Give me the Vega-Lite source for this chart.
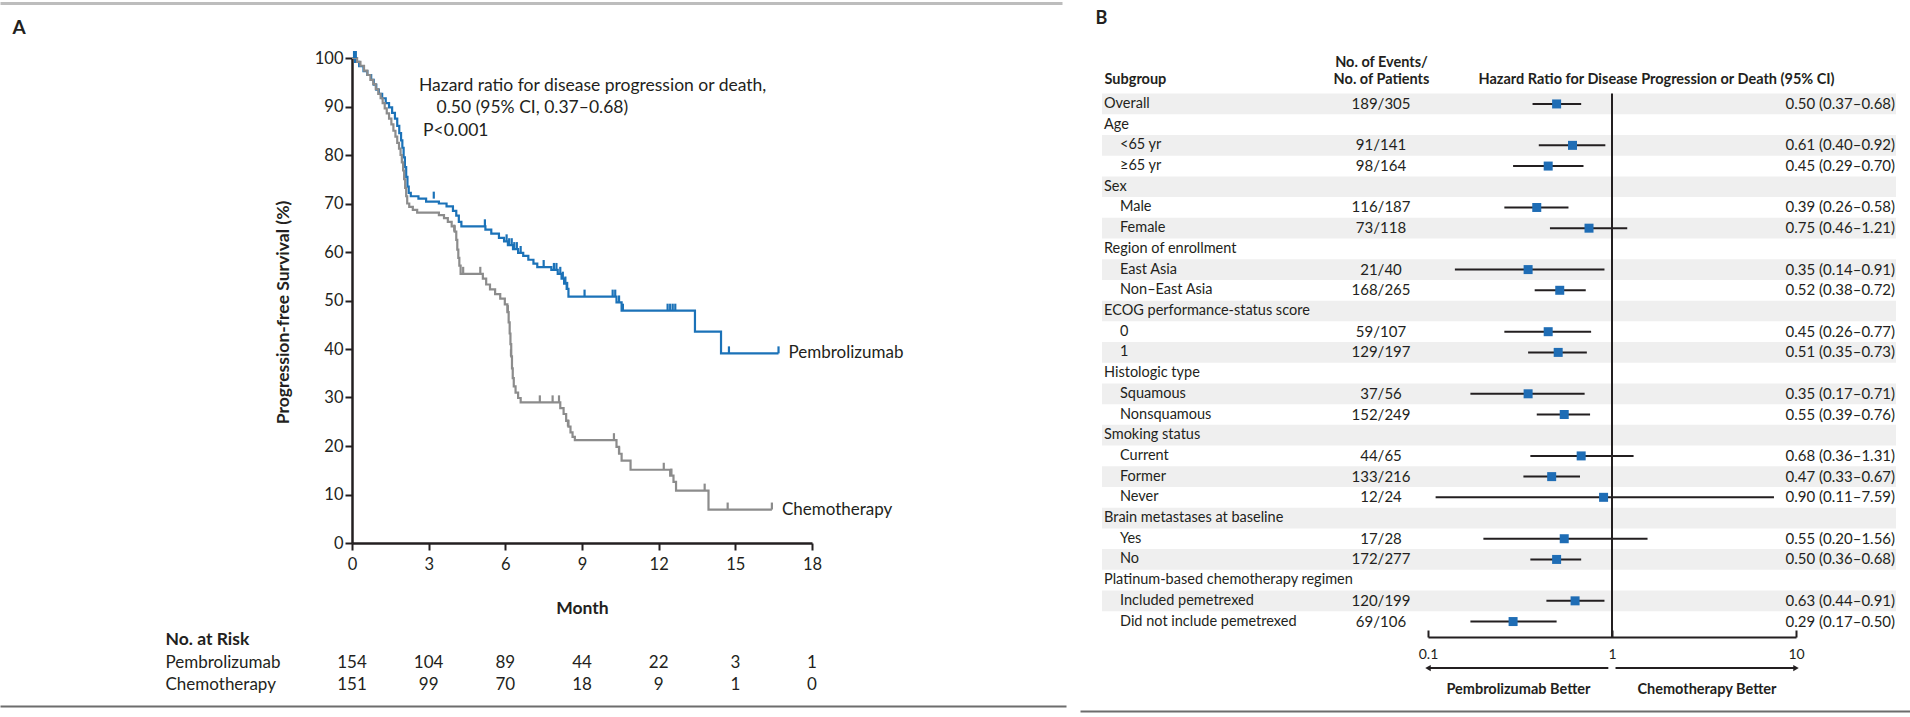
{
"$schema":"https://vega.github.io/schema/vega-lite/v6.json",
"width":1910,"height":717,"autosize":{"type":"none"},"padding":0,"background":"#ffffff",
"config":{"view":{"stroke":null},"font":"Lato","axis":{"grid":false,"labelFont":"Lato","titleFont":"Lato","labelColor":"#231f20","titleColor":"#231f20","domainColor":"#231f20","tickColor":"#231f20","labelFlush":false,"labelOverlap":false},"text":{"font":"Lato","fill":"#231f20"}},
"datasets":{
"km":[
{"arm":"Pembrolizumab","month":0,"surv":100},{"arm":"Pembrolizumab","month":0.12,"surv":99.2},{"arm":"Pembrolizumab","month":0.28,"surv":98.3},{"arm":"Pembrolizumab","month":0.45,"surv":97.3},{"arm":"Pembrolizumab","month":0.6,"surv":96.5},{"arm":"Pembrolizumab","month":0.75,"surv":95.5},{"arm":"Pembrolizumab","month":0.85,"surv":94.5},{"arm":"Pembrolizumab","month":0.95,"surv":93.5},{"arm":"Pembrolizumab","month":1.05,"surv":92.6},{"arm":"Pembrolizumab","month":1.18,"surv":91.7},{"arm":"Pembrolizumab","month":1.32,"surv":90.7},{"arm":"Pembrolizumab","month":1.45,"surv":89.8},{"arm":"Pembrolizumab","month":1.57,"surv":88.7},{"arm":"Pembrolizumab","month":1.68,"surv":87.5},{"arm":"Pembrolizumab","month":1.77,"surv":86},{"arm":"Pembrolizumab","month":1.85,"surv":84.5},{"arm":"Pembrolizumab","month":1.92,"surv":83},{"arm":"Pembrolizumab","month":1.97,"surv":81.5},{"arm":"Pembrolizumab","month":2.02,"surv":79.5},{"arm":"Pembrolizumab","month":2.07,"surv":77.5},{"arm":"Pembrolizumab","month":2.12,"surv":75.5},{"arm":"Pembrolizumab","month":2.17,"surv":73.5},{"arm":"Pembrolizumab","month":2.22,"surv":72.2},{"arm":"Pembrolizumab","month":2.3,"surv":71.5},{"arm":"Pembrolizumab","month":2.6,"surv":71},{"arm":"Pembrolizumab","month":2.9,"surv":70.4},{"arm":"Pembrolizumab","month":3.4,"surv":70},{"arm":"Pembrolizumab","month":3.7,"surv":69.4},{"arm":"Pembrolizumab","month":3.95,"surv":68.5},{"arm":"Pembrolizumab","month":4.08,"surv":67.5},{"arm":"Pembrolizumab","month":4.18,"surv":66.2},{"arm":"Pembrolizumab","month":4.28,"surv":65.3},{"arm":"Pembrolizumab","month":5.22,"surv":64.6},{"arm":"Pembrolizumab","month":5.45,"surv":63.8},{"arm":"Pembrolizumab","month":5.75,"surv":62.9},{"arm":"Pembrolizumab","month":5.95,"surv":62.2},{"arm":"Pembrolizumab","month":6.1,"surv":61.4},{"arm":"Pembrolizumab","month":6.3,"surv":60.6},{"arm":"Pembrolizumab","month":6.5,"surv":59.8},{"arm":"Pembrolizumab","month":6.7,"surv":59.2},{"arm":"Pembrolizumab","month":6.9,"surv":58.4},{"arm":"Pembrolizumab","month":7.1,"surv":57.6},{"arm":"Pembrolizumab","month":7.25,"surv":56.9},{"arm":"Pembrolizumab","month":7.8,"surv":56.3},{"arm":"Pembrolizumab","month":8.05,"surv":55.5},{"arm":"Pembrolizumab","month":8.2,"surv":54.5},{"arm":"Pembrolizumab","month":8.3,"surv":53.5},{"arm":"Pembrolizumab","month":8.4,"surv":52.4},{"arm":"Pembrolizumab","month":8.47,"surv":50.8},{"arm":"Pembrolizumab","month":10.35,"surv":49.6},{"arm":"Pembrolizumab","month":10.55,"surv":47.9},{"arm":"Pembrolizumab","month":13.42,"surv":43.6},{"arm":"Pembrolizumab","month":14.44,"surv":39.1},{"arm":"Pembrolizumab","month":16.69,"surv":39.1},
{"arm":"Chemotherapy","month":0,"surv":100},{"arm":"Chemotherapy","month":0.2,"surv":99.2},{"arm":"Chemotherapy","month":0.33,"surv":98.4},{"arm":"Chemotherapy","month":0.47,"surv":97.4},{"arm":"Chemotherapy","month":0.6,"surv":96.5},{"arm":"Chemotherapy","month":0.72,"surv":95.5},{"arm":"Chemotherapy","month":0.83,"surv":94.6},{"arm":"Chemotherapy","month":0.93,"surv":93.6},{"arm":"Chemotherapy","month":1.03,"surv":92.6},{"arm":"Chemotherapy","month":1.12,"surv":91.7},{"arm":"Chemotherapy","month":1.2,"surv":90.7},{"arm":"Chemotherapy","month":1.28,"surv":89.6},{"arm":"Chemotherapy","month":1.36,"surv":88.6},{"arm":"Chemotherapy","month":1.45,"surv":87.5},{"arm":"Chemotherapy","month":1.54,"surv":86.3},{"arm":"Chemotherapy","month":1.62,"surv":85},{"arm":"Chemotherapy","month":1.7,"surv":83.8},{"arm":"Chemotherapy","month":1.77,"surv":82.5},{"arm":"Chemotherapy","month":1.84,"surv":81.3},{"arm":"Chemotherapy","month":1.9,"surv":80},{"arm":"Chemotherapy","month":1.95,"surv":78.5},{"arm":"Chemotherapy","month":2.0,"surv":76.8},{"arm":"Chemotherapy","month":2.04,"surv":75},{"arm":"Chemotherapy","month":2.08,"surv":73.2},{"arm":"Chemotherapy","month":2.12,"surv":71.5},{"arm":"Chemotherapy","month":2.16,"surv":70},{"arm":"Chemotherapy","month":2.24,"surv":69.3},{"arm":"Chemotherapy","month":2.38,"surv":68.7},{"arm":"Chemotherapy","month":2.55,"surv":68.1},{"arm":"Chemotherapy","month":3.4,"surv":67.6},{"arm":"Chemotherapy","month":3.6,"surv":67},{"arm":"Chemotherapy","month":3.75,"surv":66.2},{"arm":"Chemotherapy","month":3.9,"surv":65.3},{"arm":"Chemotherapy","month":4.02,"surv":64.2},{"arm":"Chemotherapy","month":4.08,"surv":62.5},{"arm":"Chemotherapy","month":4.12,"surv":60.5},{"arm":"Chemotherapy","month":4.16,"surv":58.8},{"arm":"Chemotherapy","month":4.2,"surv":57.2},{"arm":"Chemotherapy","month":4.25,"surv":55.5},{"arm":"Chemotherapy","month":5.12,"surv":54.5},{"arm":"Chemotherapy","month":5.25,"surv":53.3},{"arm":"Chemotherapy","month":5.4,"surv":52.3},{"arm":"Chemotherapy","month":5.6,"surv":51.3},{"arm":"Chemotherapy","month":5.8,"surv":50.4},{"arm":"Chemotherapy","month":5.98,"surv":49.2},{"arm":"Chemotherapy","month":6.08,"surv":47.6},{"arm":"Chemotherapy","month":6.13,"surv":45.5},{"arm":"Chemotherapy","month":6.17,"surv":43.2},{"arm":"Chemotherapy","month":6.2,"surv":41},{"arm":"Chemotherapy","month":6.23,"surv":38.5},{"arm":"Chemotherapy","month":6.26,"surv":36},{"arm":"Chemotherapy","month":6.29,"surv":34},{"arm":"Chemotherapy","month":6.33,"surv":32.3},{"arm":"Chemotherapy","month":6.4,"surv":31},{"arm":"Chemotherapy","month":6.5,"surv":29.9},{"arm":"Chemotherapy","month":6.6,"surv":29},{"arm":"Chemotherapy","month":8.15,"surv":27.8},{"arm":"Chemotherapy","month":8.28,"surv":26.6},{"arm":"Chemotherapy","month":8.38,"surv":25.2},{"arm":"Chemotherapy","month":8.47,"surv":24},{"arm":"Chemotherapy","month":8.55,"surv":22.8},{"arm":"Chemotherapy","month":8.63,"surv":21.9},{"arm":"Chemotherapy","month":8.72,"surv":21.2},{"arm":"Chemotherapy","month":10.35,"surv":19.8},{"arm":"Chemotherapy","month":10.45,"surv":18.4},{"arm":"Chemotherapy","month":10.55,"surv":17},{"arm":"Chemotherapy","month":10.9,"surv":15.1},{"arm":"Chemotherapy","month":12.45,"surv":13.9},{"arm":"Chemotherapy","month":12.58,"surv":12.6},{"arm":"Chemotherapy","month":12.68,"surv":10.8},{"arm":"Chemotherapy","month":13.95,"surv":6.9},{"arm":"Chemotherapy","month":16.43,"surv":6.9}
],
"cens":[
{"arm":"Pembrolizumab","month":0.08,"surv":100},{"arm":"Pembrolizumab","month":0.15,"surv":100},{"arm":"Pembrolizumab","month":3.2,"surv":71},{"arm":"Pembrolizumab","month":5.2,"surv":65.3},{"arm":"Pembrolizumab","month":6.05,"surv":62.2},{"arm":"Pembrolizumab","month":6.15,"surv":61.4},{"arm":"Pembrolizumab","month":6.25,"surv":61.4},{"arm":"Pembrolizumab","month":6.35,"surv":60.6},{"arm":"Pembrolizumab","month":6.45,"surv":60.6},{"arm":"Pembrolizumab","month":6.6,"surv":59.8},{"arm":"Pembrolizumab","month":7.5,"surv":56.9},{"arm":"Pembrolizumab","month":7.9,"surv":56.3},{"arm":"Pembrolizumab","month":8.0,"surv":56.3},{"arm":"Pembrolizumab","month":8.15,"surv":55.5},{"arm":"Pembrolizumab","month":8.25,"surv":54.5},{"arm":"Pembrolizumab","month":8.35,"surv":53.5},{"arm":"Pembrolizumab","month":8.42,"surv":52.4},{"arm":"Pembrolizumab","month":9.1,"surv":50.8},{"arm":"Pembrolizumab","month":10.2,"surv":50.8},{"arm":"Pembrolizumab","month":10.3,"surv":50.8},{"arm":"Pembrolizumab","month":10.45,"surv":49.6},{"arm":"Pembrolizumab","month":10.6,"surv":47.9},{"arm":"Pembrolizumab","month":12.35,"surv":47.9},{"arm":"Pembrolizumab","month":12.45,"surv":47.9},{"arm":"Pembrolizumab","month":12.55,"surv":47.9},{"arm":"Pembrolizumab","month":12.65,"surv":47.9},{"arm":"Pembrolizumab","month":14.75,"surv":39.1},{"arm":"Pembrolizumab","month":16.69,"surv":39.1},
{"arm":"Chemotherapy","month":4.0,"surv":64.2},{"arm":"Chemotherapy","month":4.35,"surv":55.5},{"arm":"Chemotherapy","month":5.02,"surv":55.5},{"arm":"Chemotherapy","month":6.1,"surv":47.6},{"arm":"Chemotherapy","month":6.22,"surv":38.5},{"arm":"Chemotherapy","month":7.35,"surv":29},{"arm":"Chemotherapy","month":7.85,"surv":29},{"arm":"Chemotherapy","month":8.1,"surv":29},{"arm":"Chemotherapy","month":8.45,"surv":24},{"arm":"Chemotherapy","month":10.25,"surv":21.2},{"arm":"Chemotherapy","month":10.45,"surv":18.4},{"arm":"Chemotherapy","month":12.2,"surv":15.1},{"arm":"Chemotherapy","month":12.5,"surv":13.9},{"arm":"Chemotherapy","month":13.8,"surv":10.8},{"arm":"Chemotherapy","month":14.7,"surv":6.9},{"arm":"Chemotherapy","month":16.43,"surv":6.9}
],
"risk":[
{"arm":"Pembrolizumab","month":0,"n":154},{"arm":"Pembrolizumab","month":3,"n":104},{"arm":"Pembrolizumab","month":6,"n":89},{"arm":"Pembrolizumab","month":9,"n":44},{"arm":"Pembrolizumab","month":12,"n":22},{"arm":"Pembrolizumab","month":15,"n":3},{"arm":"Pembrolizumab","month":18,"n":1},
{"arm":"Chemotherapy","month":0,"n":151},{"arm":"Chemotherapy","month":3,"n":99},{"arm":"Chemotherapy","month":6,"n":70},{"arm":"Chemotherapy","month":9,"n":18},{"arm":"Chemotherapy","month":12,"n":9},{"arm":"Chemotherapy","month":15,"n":1},{"arm":"Chemotherapy","month":18,"n":0}
],
"forest":[
{"subgroup":"Overall","level":1,"events":"189/305","hr":0.50,"lo":0.37,"hi":0.68,"estimate":"0.50 (0.37–0.68)"},
{"subgroup":"Age","level":1},
{"subgroup":"<65 yr","level":2,"events":"91/141","hr":0.61,"lo":0.40,"hi":0.92,"estimate":"0.61 (0.40–0.92)"},
{"subgroup":"≥65 yr","level":2,"events":"98/164","hr":0.45,"lo":0.29,"hi":0.70,"estimate":"0.45 (0.29–0.70)"},
{"subgroup":"Sex","level":1},
{"subgroup":"Male","level":2,"events":"116/187","hr":0.39,"lo":0.26,"hi":0.58,"estimate":"0.39 (0.26–0.58)"},
{"subgroup":"Female","level":2,"events":"73/118","hr":0.75,"lo":0.46,"hi":1.21,"estimate":"0.75 (0.46–1.21)"},
{"subgroup":"Region of enrollment","level":1},
{"subgroup":"East Asia","level":2,"events":"21/40","hr":0.35,"lo":0.14,"hi":0.91,"estimate":"0.35 (0.14–0.91)"},
{"subgroup":"Non–East Asia","level":2,"events":"168/265","hr":0.52,"lo":0.38,"hi":0.72,"estimate":"0.52 (0.38–0.72)"},
{"subgroup":"ECOG performance-status score","level":1},
{"subgroup":"0","level":2,"events":"59/107","hr":0.45,"lo":0.26,"hi":0.77,"estimate":"0.45 (0.26–0.77)"},
{"subgroup":"1","level":2,"events":"129/197","hr":0.51,"lo":0.35,"hi":0.73,"estimate":"0.51 (0.35–0.73)"},
{"subgroup":"Histologic type","level":1},
{"subgroup":"Squamous","level":2,"events":"37/56","hr":0.35,"lo":0.17,"hi":0.71,"estimate":"0.35 (0.17–0.71)"},
{"subgroup":"Nonsquamous","level":2,"events":"152/249","hr":0.55,"lo":0.39,"hi":0.76,"estimate":"0.55 (0.39–0.76)"},
{"subgroup":"Smoking status","level":1},
{"subgroup":"Current","level":2,"events":"44/65","hr":0.68,"lo":0.36,"hi":1.31,"estimate":"0.68 (0.36–1.31)"},
{"subgroup":"Former","level":2,"events":"133/216","hr":0.47,"lo":0.33,"hi":0.67,"estimate":"0.47 (0.33–0.67)"},
{"subgroup":"Never","level":2,"events":"12/24","hr":0.90,"lo":0.11,"hi":7.59,"estimate":"0.90 (0.11–7.59)"},
{"subgroup":"Brain metastases at baseline","level":1},
{"subgroup":"Yes","level":2,"events":"17/28","hr":0.55,"lo":0.20,"hi":1.56,"estimate":"0.55 (0.20–1.56)"},
{"subgroup":"No","level":2,"events":"172/277","hr":0.50,"lo":0.36,"hi":0.68,"estimate":"0.50 (0.36–0.68)"},
{"subgroup":"Platinum-based chemotherapy regimen","level":1},
{"subgroup":"Included pemetrexed","level":2,"events":"120/199","hr":0.63,"lo":0.44,"hi":0.91,"estimate":"0.63 (0.44–0.91)"},
{"subgroup":"Did not include pemetrexed","level":2,"events":"69/106","hr":0.29,"lo":0.17,"hi":0.50,"estimate":"0.29 (0.17–0.50)"}
],
"arrows":[
{"side":"Pembrolizumab Better","start":0.955,"end":0.1,"mid":0.31},
{"side":"Chemotherapy Better","start":1.045,"end":10,"mid":3.28}
]
},
"layer":[
{"data":{"name":"km"},
 "layer":[
  {"mark":{"type":"line","interpolate":"step-after","strokeWidth":2.2},
   "encoding":{
    "x":{"field":"month","type":"quantitative","scale":{"domain":[0,18],"range":[352,812],"nice":false,"zero":false},
     "axis":{"orient":"bottom","offset":-174,"values":[0,3,6,9,12,15,18],"title":"Month","titleFontSize":17.5,"titleFontWeight":"bold","titleY":65,"titleBaseline":"middle","labelFontSize":16.5,"labelPadding":6,"tickSize":7,"tickWidth":2,"domainWidth":2.5}},
    "y":{"field":"surv","type":"quantitative","scale":{"domain":[0,100],"range":[543,58],"nice":false,"zero":false},
     "axis":{"orient":"left","offset":-352,"values":[0,10,20,30,40,50,60,70,80,90,100],"title":"Progression-free Survival (%)","titleX":-69,"titleY":312,"titleAngle":-90,"titleAlign":"center","titleBaseline":"middle","titleFontSize":17.5,"titleFontWeight":"bold","labelFontSize":16.5,"labelPadding":2,"tickSize":7,"tickWidth":2,"domainWidth":2.5}},
    "color":{"field":"arm","type":"nominal","scale":{"domain":["Pembrolizumab","Chemotherapy"],"range":["#1b72b8","#8c8c8c"]},"legend":null}}},
  {"data":{"name":"cens"},
   "mark":{"type":"point","shape":"M0,0V-1","size":196,"strokeWidth":2.2,"filled":false,"opacity":1},
   "encoding":{
    "x":{"field":"month","type":"quantitative","scale":{"domain":[0,18],"range":[352,812],"nice":false,"zero":false},"axis":null},
    "y":{"field":"surv","type":"quantitative","scale":{"domain":[0,100],"range":[543,58],"nice":false,"zero":false},"axis":null},
    "color":{"field":"arm","type":"nominal","legend":null}}},
  {"transform":[{"joinaggregate":[{"op":"max","field":"month","as":"last"}],"groupby":["arm"]},{"filter":"datum.month === datum.last"}],
   "mark":{"type":"text","align":"left","baseline":"middle","dx":10,"fontSize":17},
   "encoding":{
    "x":{"field":"month","type":"quantitative","scale":{"domain":[0,18],"range":[352,812],"nice":false,"zero":false},"axis":null},
    "y":{"field":"surv","type":"quantitative","scale":{"domain":[0,100],"range":[543,58],"nice":false,"zero":false},"axis":null},
    "text":{"field":"arm"}}},
  {"data":{"values":[{}]},
   "mark":{"type":"text","text":"Hazard ratio for disease progression or death,","align":"left","baseline":"middle","fontSize":17.5},
   "encoding":{"x":{"datum":2.62,"type":"quantitative","scale":{"domain":[0,18],"range":[352,812],"nice":false,"zero":false},"axis":null},"y":{"datum":94.2,"type":"quantitative","scale":{"domain":[0,100],"range":[543,58],"nice":false,"zero":false},"axis":null}}},
  {"data":{"values":[{}]},
   "mark":{"type":"text","text":"0.50 (95% CI, 0.37–0.68)","align":"left","baseline":"middle","fontSize":17.5},
   "encoding":{"x":{"datum":3.31,"type":"quantitative","scale":{"domain":[0,18],"range":[352,812],"nice":false,"zero":false},"axis":null},"y":{"datum":89.7,"type":"quantitative","scale":{"domain":[0,100],"range":[543,58],"nice":false,"zero":false},"axis":null}}},
  {"data":{"values":[{}]},
   "mark":{"type":"text","text":"P<0.001","align":"left","baseline":"middle","fontSize":17.5},
   "encoding":{"x":{"datum":2.78,"type":"quantitative","scale":{"domain":[0,18],"range":[352,812],"nice":false,"zero":false},"axis":null},"y":{"datum":84.9,"type":"quantitative","scale":{"domain":[0,100],"range":[543,58],"nice":false,"zero":false},"axis":null}}},
  {"data":{"values":[{}]},
   "mark":{"type":"rule","opacity":0},
   "encoding":{"x":{"datum":0,"type":"quantitative","scale":{"domain":[0,1],"range":[0,1062],"nice":false,"zero":false},
     "axis":{"orient":"top","offset":-3,"ticks":false,"labels":false,"title":null,"domainColor":"#bdbdbd","domainWidth":3}}}},
  {"data":{"values":[{}]},
   "mark":{"type":"rule","opacity":0},
   "encoding":{"x":{"datum":0,"type":"quantitative","scale":{"domain":[0,1],"range":[0,1066],"nice":false,"zero":false},
     "axis":{"orient":"bottom","offset":-11,"ticks":false,"labels":false,"title":null,"domainColor":"#6d6d6d","domainWidth":2}}}}
 ],
 "resolve":{"scale":{"x":"independent","y":"independent"}}},
{"data":{"name":"risk"},
 "mark":{"type":"text","fontSize":17,"baseline":"middle","align":"center"},
 "encoding":{
  "x":{"field":"month","type":"quantitative","scale":{"domain":[0,18],"range":[352,812],"nice":false,"zero":false},
   "axis":{"orient":"top","offset":0,"domain":false,"ticks":false,"labels":false,"title":"A","titleX":12,"titleY":27,"titleAlign":"left","titleBaseline":"middle","titleAngle":0,"titleFontSize":19,"titleFontWeight":"bold"}},
  "y":{"field":"arm","type":"nominal","sort":null,"scale":{"type":"band","domain":["Pembrolizumab","Chemotherapy"],"range":[652,696],"paddingInner":0,"paddingOuter":0},
   "axis":{"orient":"left","offset":-165,"domain":false,"ticks":false,"tickSize":0,"labelPadding":0,"labelAlign":"left","labelBaseline":"middle","labelFontSize":17,"title":"No. at Risk","titleAngle":0,"titleX":0,"titleY":639,"titleAlign":"left","titleBaseline":"middle","titleFontSize":17.5,"titleFontWeight":"bold"}},
  "text":{"field":"n","type":"quantitative"}}},
{"data":{"name":"forest"},
 "layer":[
  {"transform":[{"window":[{"op":"row_number","as":"rowIndex"}]},{"filter":"datum.rowIndex % 2 === 1"}],
   "mark":{"type":"rect","color":"#efefef"},
   "encoding":{
    "y":{"field":"subgroup","type":"nominal","sort":null,"scale":{"type":"band","domain":["Overall","Age","<65 yr","≥65 yr","Sex","Male","Female","Region of enrollment","East Asia","Non–East Asia","ECOG performance-status score","0","1","Histologic type","Squamous","Nonsquamous","Smoking status","Current","Former","Never","Brain metastases at baseline","Yes","No","Platinum-based chemotherapy regimen","Included pemetrexed","Did not include pemetrexed"],"range":[93.6,631.9],"paddingInner":0,"paddingOuter":0},"axis":null},
    "x":{"datum":0,"type":"quantitative","scale":{"domain":[0,1],"range":[1102,1896],"nice":false,"zero":false},
     "axis":{"orient":"top","offset":0,"domain":false,"ticks":false,"labels":false,"title":"Subgroup","titleX":1104,"titleY":79,"titleAlign":"left","titleBaseline":"middle","titleAngle":0,"titleFontSize":14.5,"titleFontWeight":"bold"}},
    "x2":{"datum":1}}},
  {"mark":{"type":"text","align":"left","baseline":"middle","fontSize":14.5},
   "encoding":{
    "y":{"field":"subgroup","type":"nominal","sort":null,"scale":{"type":"band","domain":["Overall","Age","<65 yr","≥65 yr","Sex","Male","Female","Region of enrollment","East Asia","Non–East Asia","ECOG performance-status score","0","1","Histologic type","Squamous","Nonsquamous","Smoking status","Current","Former","Never","Brain metastases at baseline","Yes","No","Platinum-based chemotherapy regimen","Included pemetrexed","Did not include pemetrexed"],"range":[93.6,631.9],"paddingInner":0,"paddingOuter":0},"axis":null},
    "x":{"field":"level","type":"quantitative","scale":{"domain":[1,2],"range":[1104,1120],"nice":false,"zero":false},
     "axis":{"orient":"top","offset":0,"domain":false,"ticks":false,"labels":false,"title":"B","titleX":1095,"titleY":18,"titleAlign":"left","titleBaseline":"middle","titleAngle":0,"titleFontSize":18,"titleFontWeight":"bold"}},
    "text":{"field":"subgroup","type":"nominal"}}},
  {"transform":[{"filter":"datum.events != null"}],
   "mark":{"type":"text","align":"center","baseline":"middle","fontSize":15},
   "encoding":{
    "y":{"field":"subgroup","type":"nominal","sort":null,"scale":{"type":"band","domain":["Overall","Age","<65 yr","≥65 yr","Sex","Male","Female","Region of enrollment","East Asia","Non–East Asia","ECOG performance-status score","0","1","Histologic type","Squamous","Nonsquamous","Smoking status","Current","Former","Never","Brain metastases at baseline","Yes","No","Platinum-based chemotherapy regimen","Included pemetrexed","Did not include pemetrexed"],"range":[93.6,631.9],"paddingInner":0,"paddingOuter":0},"axis":null},
    "x":{"datum":1,"type":"quantitative","scale":{"domain":[0,1],"range":[1102,1381],"nice":false,"zero":false},
     "axis":{"orient":"top","offset":0,"domain":false,"ticks":false,"labels":false,"title":["No. of Events/","No. of Patients"],"titleX":1381,"titleY":62,"titleAlign":"center","titleBaseline":"middle","titleAngle":0,"titleLineHeight":17,"titleFontSize":14.5,"titleFontWeight":"bold"}},
    "text":{"field":"events","type":"nominal"}}},
  {"transform":[{"filter":"datum.hr != null"}],
   "mark":{"type":"text","align":"right","baseline":"middle","fontSize":15},
   "encoding":{
    "y":{"field":"subgroup","type":"nominal","sort":null,"scale":{"type":"band","domain":["Overall","Age","<65 yr","≥65 yr","Sex","Male","Female","Region of enrollment","East Asia","Non–East Asia","ECOG performance-status score","0","1","Histologic type","Squamous","Nonsquamous","Smoking status","Current","Former","Never","Brain metastases at baseline","Yes","No","Platinum-based chemotherapy regimen","Included pemetrexed","Did not include pemetrexed"],"range":[93.6,631.9],"paddingInner":0,"paddingOuter":0},"axis":null},
    "x":{"datum":0.982,"type":"quantitative","scale":{"domain":[0,1],"range":[1080,1910],"nice":false,"zero":false},
     "axis":{"orient":"bottom","offset":-6,"ticks":false,"labels":false,"title":null,"domainColor":"#6d6d6d","domainWidth":2}},
    "text":{"field":"estimate","type":"nominal"}}},
  {"data":{"values":[{}]},
   "mark":{"type":"rule","strokeWidth":2,"color":"#231f20","yOffset":-10.5,"y2Offset":15.5},
   "encoding":{
    "x":{"datum":1,"type":"quantitative","scale":{"type":"log","domain":[0.1,10],"range":[1428,1796],"nice":false},"axis":null},
    "y":{"datum":"Overall","type":"nominal","scale":{"type":"band","domain":["Overall","Age","<65 yr","≥65 yr","Sex","Male","Female","Region of enrollment","East Asia","Non–East Asia","ECOG performance-status score","0","1","Histologic type","Squamous","Nonsquamous","Smoking status","Current","Former","Never","Brain metastases at baseline","Yes","No","Platinum-based chemotherapy regimen","Included pemetrexed","Did not include pemetrexed"],"range":[93.6,631.9],"paddingInner":0,"paddingOuter":0},"axis":null},
    "y2":{"datum":"Did not include pemetrexed"}}},
  {"transform":[{"filter":"datum.hr != null"}],
   "mark":{"type":"rule","strokeWidth":2,"color":"#231f20"},
   "encoding":{
    "y":{"field":"subgroup","type":"nominal","sort":null,"scale":{"type":"band","domain":["Overall","Age","<65 yr","≥65 yr","Sex","Male","Female","Region of enrollment","East Asia","Non–East Asia","ECOG performance-status score","0","1","Histologic type","Squamous","Nonsquamous","Smoking status","Current","Former","Never","Brain metastases at baseline","Yes","No","Platinum-based chemotherapy regimen","Included pemetrexed","Did not include pemetrexed"],"range":[93.6,631.9],"paddingInner":0,"paddingOuter":0},"axis":null},
    "x":{"field":"lo","type":"quantitative","scale":{"type":"log","domain":[0.1,10],"range":[1428,1796],"nice":false},
     "axis":{"orient":"bottom","offset":-80,"values":[0.1,1,10],"format":"~g","title":null,"tickSize":-7,"tickWidth":2,"domainWidth":2,"labelFontSize":14,"labelPadding":17}},
    "x2":{"field":"hi"}}},
  {"transform":[{"filter":"datum.hr != null"}],
   "mark":{"type":"point","shape":"square","filled":true,"size":81,"color":"#1f6db5","opacity":1},
   "encoding":{
    "y":{"field":"subgroup","type":"nominal","sort":null,"scale":{"type":"band","domain":["Overall","Age","<65 yr","≥65 yr","Sex","Male","Female","Region of enrollment","East Asia","Non–East Asia","ECOG performance-status score","0","1","Histologic type","Squamous","Nonsquamous","Smoking status","Current","Former","Never","Brain metastases at baseline","Yes","No","Platinum-based chemotherapy regimen","Included pemetrexed","Did not include pemetrexed"],"range":[93.6,631.9],"paddingInner":0,"paddingOuter":0},"axis":null},
    "x":{"field":"hr","type":"quantitative","scale":{"type":"log","domain":[0.1,10],"range":[1428,1796],"nice":false},
     "axis":{"orient":"top","offset":0,"domain":false,"ticks":false,"labels":false,"title":"Hazard Ratio for Disease Progression or Death (95% CI)","titleX":1478,"titleY":79,"titleAlign":"left","titleBaseline":"middle","titleAngle":0,"titleFontSize":14.5,"titleFontWeight":"bold"}}}},
  {"data":{"name":"arrows"},
   "mark":{"type":"rule","strokeWidth":2,"color":"#231f20","yOffset":46.5},
   "encoding":{
    "x":{"field":"start","type":"quantitative","scale":{"type":"log","domain":[0.1,10],"range":[1428,1796],"nice":false},"axis":null},
    "x2":{"field":"end"},
    "y":{"datum":"Did not include pemetrexed","type":"nominal","scale":{"type":"band","domain":["Overall","Age","<65 yr","≥65 yr","Sex","Male","Female","Region of enrollment","East Asia","Non–East Asia","ECOG performance-status score","0","1","Histologic type","Squamous","Nonsquamous","Smoking status","Current","Former","Never","Brain metastases at baseline","Yes","No","Platinum-based chemotherapy regimen","Included pemetrexed","Did not include pemetrexed"],"range":[93.6,631.9],"paddingInner":0,"paddingOuter":0},"axis":null}}},
  {"data":{"name":"arrows"},
   "mark":{"type":"point","filled":true,"size":40,"color":"#231f20","opacity":1,"yOffset":46.5},
   "encoding":{
    "x":{"field":"end","type":"quantitative","scale":{"type":"log","domain":[0.1,10],"range":[1428,1796],"nice":false},"axis":null},
    "y":{"datum":"Did not include pemetrexed","type":"nominal","scale":{"type":"band","domain":["Overall","Age","<65 yr","≥65 yr","Sex","Male","Female","Region of enrollment","East Asia","Non–East Asia","ECOG performance-status score","0","1","Histologic type","Squamous","Nonsquamous","Smoking status","Current","Former","Never","Brain metastases at baseline","Yes","No","Platinum-based chemotherapy regimen","Included pemetrexed","Did not include pemetrexed"],"range":[93.6,631.9],"paddingInner":0,"paddingOuter":0},"axis":null},
    "shape":{"field":"side","type":"nominal","scale":{"domain":["Pembrolizumab Better","Chemotherapy Better"],"range":["triangle-left","triangle-right"]},"legend":null}}},
  {"data":{"name":"arrows"},
   "mark":{"type":"text","align":"center","baseline":"middle","fontSize":14.5,"fontWeight":"bold","yOffset":68.5},
   "encoding":{
    "x":{"field":"mid","type":"quantitative","scale":{"type":"log","domain":[0.1,10],"range":[1428,1796],"nice":false},"axis":null},
    "y":{"datum":"Did not include pemetrexed","type":"nominal","scale":{"type":"band","domain":["Overall","Age","<65 yr","≥65 yr","Sex","Male","Female","Region of enrollment","East Asia","Non–East Asia","ECOG performance-status score","0","1","Histologic type","Squamous","Nonsquamous","Smoking status","Current","Former","Never","Brain metastases at baseline","Yes","No","Platinum-based chemotherapy regimen","Included pemetrexed","Did not include pemetrexed"],"range":[93.6,631.9],"paddingInner":0,"paddingOuter":0},"axis":null},
    "text":{"field":"side","type":"nominal"}}}
 ],
 "resolve":{"scale":{"x":"independent"}}}
],
"resolve":{"scale":{"x":"independent","y":"independent"}}
}
